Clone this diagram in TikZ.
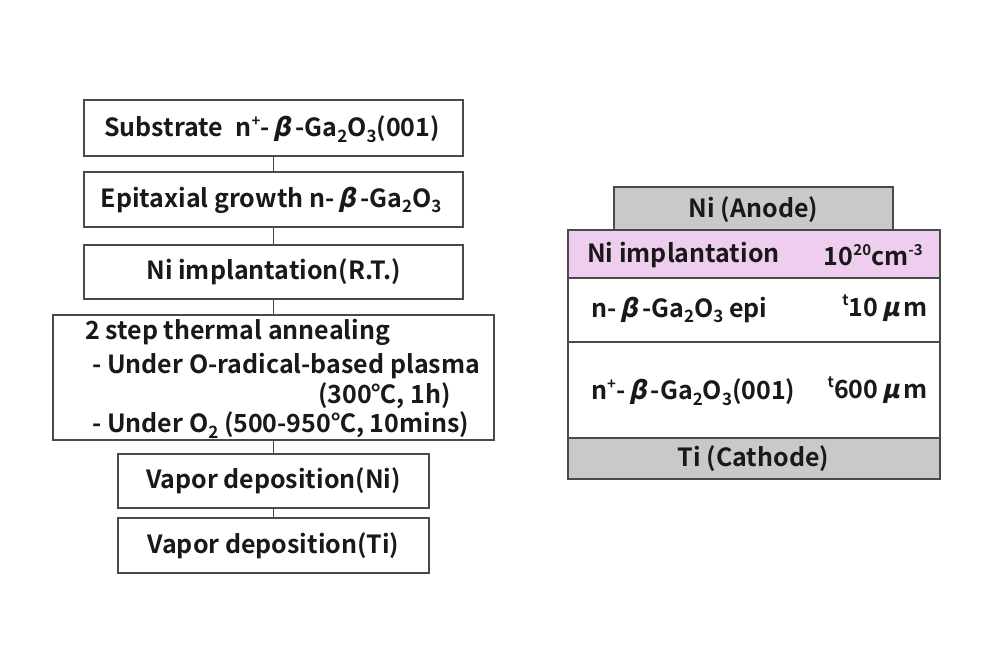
\documentclass[tikz,border=0pt]{standalone}
\usepackage{fontspec}
\setmainfont{Noto Sans CJK JP}[BoldFont={* Bold}]
\newfontfamily\grk{Noto Sans CJK JP Bold}[FakeSlant=0.22]
\newcommand\sups[1]{\raisebox{0.42em}{\fontsize{15}{15}\selectfont #1}}
\newcommand\subs[1]{\raisebox{-0.22em}{\fontsize{17}{17}\selectfont #1}}
\newcommand\bet{\,{\grk β}\,}
\definecolor{edge}{HTML}{4A4A4A}
\definecolor{pinkfill}{HTML}{EFCDEF}
\definecolor{metal}{HTML}{C9C9C9}
\tikzset{
  stepbox/.style={draw=edge, line width=1.4pt, fill=white, inner sep=0pt, rectangle},
  lbl/.style={inner sep=0pt, font=\fontsize{25}{29}\selectfont\bfseries, text=black!90},
  link/.style={draw=edge, line width=1.4pt},
  layer/.style={draw=edge, line width=1.4pt, inner sep=0pt, rectangle}
}
\begin{document}
\begin{tikzpicture}[x=1pt,y=-1pt]
\useasboundingbox[fill=white] (0,0) rectangle (1000,666);
% flow chart
\node[stepbox, minimum width=379pt, minimum height=56pt] (b1) at (273.5,128) {};
\node[stepbox, minimum width=379pt, minimum height=55pt] (b2) at (273.5,199.5) {};
\node[stepbox, minimum width=379pt, minimum height=54pt] (b3) at (273.5,272) {};
\node[stepbox, minimum width=441pt, minimum height=125pt] (b4) at (273.5,377.5) {};
\node[stepbox, minimum width=311pt, minimum height=54pt] (b5) at (273.5,481) {};
\node[stepbox, minimum width=311pt, minimum height=55pt] (b6) at (273.5,545.5) {};
\draw[link] (b1.south) -- (b2.north);
\draw[link] (b2.south) -- (b3.north);
\draw[link] (b3.south) -- (b4.north);
\draw[link] (b4.south) -- (b5.north);
\draw[link] (b5.south) -- (b6.north);
\node[lbl] (t1) at (272,129) {Substrate\enspace n\sups{+}-\bet-Ga\subs{2}O\subs{3}(001)};
\node[lbl] (t2) at (271,200) {Epitaxial growth n-\bet-Ga\subs{2}O\subs{3}};
\node[lbl] (t3) at (273.5,272) {Ni implantation(R.T.)};
\node[lbl, anchor=west] (t4a) at (85,332) {2 step thermal annealing};
\node[lbl, anchor=west] (t4b) at (92,366) {- Under O-radical-based plasma};
\node[lbl, anchor=east] (t4c) at (451,396) {(300℃, 1h)};
\node[lbl, anchor=west] (t4d) at (92,425) {- Under O\subs{2} (500-950℃, 10mins)};
\node[lbl] (t5) at (273.5,481) {Vapor deposition(Ni)};
\node[lbl] (t6) at (273.5,545.5) {Vapor deposition(Ti)};
% device cross-section
\node[layer, fill=metal, minimum width=279pt, minimum height=43pt] (an) at (753.5,208.5) {};
\node[layer, fill=pinkfill, minimum width=372pt, minimum height=48pt] (im) at (754,254) {};
\node[layer, fill=white, minimum width=372pt, minimum height=64pt] (ep) at (754,310) {};
\node[layer, fill=white, minimum width=372pt, minimum height=96pt] (su) at (754,390) {};
\node[layer, fill=metal, minimum width=372pt, minimum height=41pt] (ti) at (754,458.5) {};
\node[lbl] (tan) at (753.5,210) {Ni (Anode)};
\node[lbl, anchor=west] (tim) at (587,255) {Ni implantation};
\node[lbl, anchor=east] (tcon) at (923,255) {10\sups{20}cm\sups{-3}};
\node[lbl, anchor=west] (tep) at (591,310) {n-\bet-Ga\subs{2}O\subs{3} epi};
\node[lbl, anchor=east] (tept) at (928,308) {\sups{t}10\,{\grk μ}\,m};
\node[lbl, anchor=west] (tsu) at (591,392) {n\sups{+}-\bet-Ga\subs{2}O\subs{3}(001)};
\node[lbl, anchor=east] (tsut) at (928,390) {\sups{t}600\,{\grk μ}\,m};
\node[lbl] (tti) at (753.5,458.5) {Ti (Cathode)};
\end{tikzpicture}
\end{document}
